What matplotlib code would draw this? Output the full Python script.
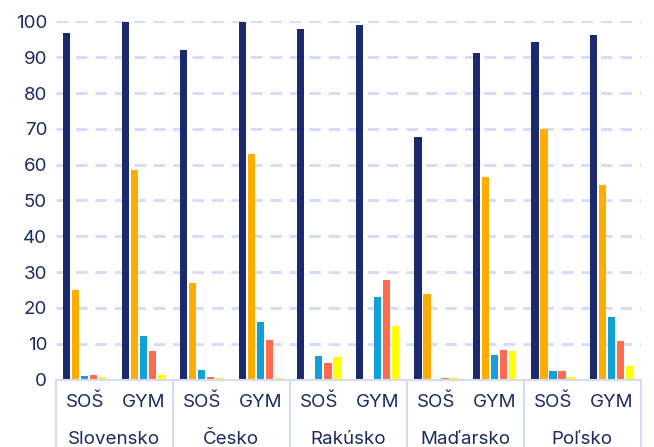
import matplotlib
matplotlib.use('Agg')
import matplotlib.pyplot as plt
import numpy as np

countries = ['Slovensko', 'Česko', 'Rakúsko', 'Maďarsko', 'Poľsko']
school_types = ['SOŠ', 'GYM']

# one value per (country, school type) slot, in order SOŠ, GYM for each country
s1 = [96.8, 99.8, 91.9, 99.9, 97.8, 99.1, 67.6, 91.1, 94.3, 96.1]
s2 = [25.0, 58.5, 26.9, 63.0, 0.0, 0.0, 23.9, 56.5, 69.9, 54.2]
s3 = [1.0, 12.3, 2.7, 16.1, 6.7, 23.1, 0.2, 6.9, 2.3, 17.4]
s4 = [1.3, 8.0, 0.8, 11.1, 4.6, 27.9, 0.5, 8.2, 2.3, 10.9]
s5 = [0.8, 1.4, 0.5, 0.4, 6.2, 15.0, 0.4, 8.0, 0.6, 3.8]

series = [s1, s2, s3, s4, s5]
colors = ['#1a2a6c', '#ffad00', '#12a0d7', '#ff6a50', '#ffff00']
text_color = '#1b2b5e'
grid_color = '#d3dbf7'

plt.rcParams['font.family'] = ['Inter', 'DejaVu Sans']
plt.rcParams['lines.scale_dashes'] = False

fig = plt.figure(figsize=(6.54, 4.47), dpi=100)
W, H = 654, 447
left, right, top, base = 55.5, 640.7, 21.4, 379.6
ax = fig.add_axes([left / W, (H - base) / H, (right - left) / W, (base - top) / H])

x = np.arange(len(s1))
step = 0.154
width = 0.125
for i, (vals, c) in enumerate(zip(series, colors)):
    ax.bar(x + (i - 2) * step, vals, width=width, color=c, zorder=3, linewidth=0)

ax.set_xlim(-0.5, len(s1) - 0.5)
ax.set_ylim(0, 100)
ax.set_yticks(range(0, 101, 10))
ax.tick_params(axis='y', length=0, pad=6, labelsize=13.5, labelcolor=text_color)
ax.yaxis.grid(True, color=grid_color, linewidth=2, linestyle=(0, (8.3, 5.7)), zorder=0)
ax.set_xticks([])

for sp in ['top', 'right', 'left']:
    ax.spines[sp].set_visible(False)
ax.spines['bottom'].set_color(grid_color)
ax.spines['bottom'].set_linewidth(1.5)
ax.spines['bottom'].set_zorder(4)

trans = ax.get_xaxis_transform()
ph = base - top
y_type = -23.0 / ph
y_country = -59.5 / ph
y_bottom = -(H - base + 2) / ph

for k, xi in enumerate(x):
    ax.text(xi, y_type, school_types[k % 2], transform=trans, ha='center', va='center',
            fontsize=13.5, color=text_color)
for j, name in enumerate(countries):
    ax.text(2 * j + 0.5, y_country, name, transform=trans, ha='center', va='center',
            fontsize=13.5, color=text_color)

for j in range(len(countries) + 1):
    ax.plot([2 * j - 0.5, 2 * j - 0.5], [0, y_bottom], transform=trans, color=grid_color,
            linewidth=1.5, clip_on=False, solid_capstyle='butt')

fig.savefig('out.png', dpi=100)
